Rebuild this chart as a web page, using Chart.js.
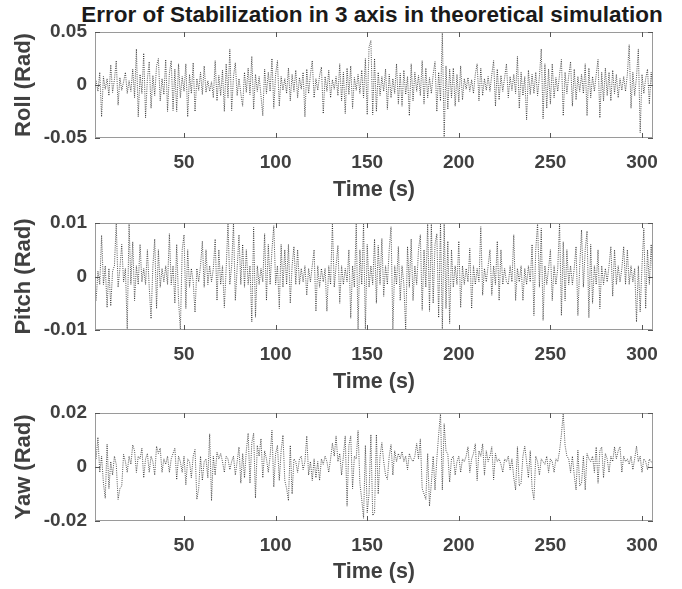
<!DOCTYPE html>
<html>
<head>
<meta charset="utf-8">
<script src="https://cdn.jsdelivr.net/npm/chart.js@4.4.0/dist/chart.umd.min.js"></script>
<style>
  body { margin: 0; width: 682px; height: 589px; background: #fff; position: relative; overflow: hidden; }
  #title { position: absolute; left: 0; width: 744px; top: 2px; text-align: center; line-height: 1;
           font: bold 22.5px "Liberation Sans", Arial, sans-serif; color: #1a1a1a; white-space: nowrap; }
  .plot { position: absolute; left: 0; width: 682px; }
  #c1 { top: 0; height: 205px; }
  #c2 { top: 190px; height: 205px; }
  #c3 { top: 380px; height: 209px; }
</style>
</head>
<body>
<div id="title">Error of Stabilization in 3 axis in theoretical simulation</div>
<div class="plot" id="c1"><canvas id="rollCanvas"></canvas></div>
<div class="plot" id="c2"><canvas id="pitchCanvas"></canvas></div>
<div class="plot" id="c3"><canvas id="yawCanvas"></canvas></div>
<script>
// sampled once per second, starting at t = 2 s
var startTime = 2;
var xTicks = [50, 100, 150, 200, 250, 300];

var rollErr = [
  0.004, -0.006, 0.012, -0.030, 0.008, -0.004, 0.006, -0.010, 0.019, -0.007,
  0.005, 0.023, -0.019, 0.007, -0.005, 0.003, 0.012, -0.008, 0.004, -0.006,
  0.015, -0.012, 0.034, -0.030, 0.010, -0.008, 0.030, -0.031, 0.006, 0.022,
  -0.022, 0.009, -0.010, 0.018, 0.025, -0.015, 0.006, -0.009, 0.024, -0.025,
  0.011, 0.023, -0.024, 0.015, -0.025, 0.020, -0.012, 0.008, -0.006, 0.020,
  -0.030, 0.010, -0.008, 0.021, -0.025, 0.006, -0.005, 0.012, -0.009, 0.018,
  -0.007, 0.004, -0.006, 0.003, -0.012, 0.023, -0.015, 0.009, -0.010, 0.014,
  -0.025, 0.020, -0.012, 0.034, -0.024, 0.008, 0.021, -0.010, 0.006, -0.008,
  -0.020, 0.012, -0.007, 0.016, -0.009, 0.027, -0.023, 0.010, -0.006, 0.008,
  -0.010, -0.029, 0.015, -0.008, 0.012, -0.006, 0.025, -0.022, 0.010, 0.023,
  -0.020, 0.008, -0.005, 0.006, -0.008, 0.016, -0.015, 0.010, -0.006, 0.014,
  -0.012, 0.007, -0.004, 0.012, -0.030, 0.015, -0.008, 0.010, 0.023, -0.012,
  0.006, -0.005, 0.009, 0.017, -0.027, 0.008, -0.006, 0.014, -0.012, 0.005,
  -0.004, 0.008, -0.010, 0.020, -0.015, 0.012, -0.027, 0.016, -0.009, 0.018,
  -0.022, 0.007, -0.005, 0.010, -0.008, 0.014, -0.012, 0.025, -0.028, 0.036,
  0.042, -0.028, 0.025, -0.025, 0.012, -0.010, 0.008, -0.006, 0.015, -0.023,
  0.010, -0.012, 0.006, -0.008, 0.020, -0.018, 0.011, -0.020, 0.014, -0.009,
  0.008, -0.029, 0.020, -0.015, 0.012, -0.006, 0.009, -0.010, 0.023, -0.018,
  0.016, -0.012, 0.007, -0.008, 0.010, 0.022, -0.025, 0.012, -0.015, 0.050,
  -0.050, 0.018, -0.023, 0.015, -0.012, 0.016, -0.020, 0.010, -0.016, 0.018,
  -0.014, 0.006, -0.004, 0.007, -0.006, 0.005, -0.008, 0.010, 0.020, -0.015,
  0.016, -0.010, 0.006, -0.005, 0.008, -0.006, 0.010, 0.023, -0.020, 0.015,
  -0.014, 0.009, -0.006, 0.007, 0.020, -0.012, 0.008, -0.005, 0.010, -0.008,
  0.027, -0.022, 0.012, -0.010, 0.008, -0.033, 0.014, -0.009, 0.010, -0.008,
  0.012, -0.010, 0.008, 0.034, -0.032, 0.020, -0.022, 0.015, -0.018, 0.020,
  -0.012, 0.007, -0.006, 0.010, 0.024, -0.029, 0.012, -0.008, 0.009, 0.022,
  -0.020, 0.015, -0.014, 0.008, -0.006, 0.010, -0.008, 0.020, -0.029, 0.016,
  -0.012, 0.008, -0.006, 0.010, 0.024, -0.031, 0.012, -0.015, 0.016, -0.010,
  0.012, -0.015, 0.014, -0.008, 0.010, -0.012, 0.006, -0.005, 0.008, -0.006,
  0.010, 0.038, -0.022, 0.012, -0.010, 0.008, 0.034, -0.045, 0.010, -0.008,
  0.006, 0.015, -0.018, 0.012, -0.008
];

var pitchErr = [
  -0.0045, 0.001, -0.0015, 0.0077, -0.0015, 0.002, -0.0058, 0.0015, -0.0055, 0.001,
  0.002, 0.010, -0.002, 0.0015, 0.006, -0.001, 0.0015, -0.010, 0.010, -0.0015,
  0.0065, -0.0045, 0.002, -0.0015, 0.006, -0.001, 0.0015, -0.0015, 0.005, -0.002,
  -0.0079, 0.002, 0.007, -0.006, 0.005, -0.002, 0.0015, -0.001, 0.002, -0.0015,
  0.008, -0.0015, 0.002, -0.005, 0.006, -0.0045, -0.010, 0.005, 0.0078, -0.006,
  0.005, -0.002, 0.0015, -0.001, -0.0067, 0.0015, -0.001, 0.002, 0.0066, -0.002,
  0.005, -0.0015, 0.002, -0.001, 0.0015, 0.007, -0.0045, 0.005, -0.0015, 0.002,
  -0.0058, 0.0015, 0.010, -0.0015, 0.002, 0.010, -0.0045, 0.0015, 0.0078, -0.0015,
  0.006, -0.002, 0.005, -0.0015, 0.002, -0.0085, 0.0092, -0.0076, 0.002, -0.0015,
  0.0015, -0.001, 0.008, -0.0045, 0.006, -0.0015, 0.005, 0.0095, -0.0015, 0.002,
  -0.006, 0.006, -0.002, 0.005, -0.0015, 0.006, -0.005, 0.002, 0.0056, -0.0015,
  0.005, -0.0015, 0.0015, -0.001, 0.002, -0.0035, 0.0015, -0.001, 0.002, 0.005,
  -0.0065, 0.002, -0.002, 0.0015, -0.001, 0.0015, -0.0065, 0.002, -0.0015, 0.010,
  -0.002, 0.002, 0.0058, -0.005, 0.002, -0.0015, 0.0015, -0.001, 0.005, -0.0078,
  0.002, -0.002, 0.010, -0.010, 0.005, -0.0015, 0.010, -0.010, 0.006, -0.002,
  0.002, -0.0015, 0.007, -0.005, 0.0058, -0.0015, 0.0071, -0.0037, 0.002, -0.0015,
  0.005, 0.0093, -0.010, 0.002, -0.0015, 0.0056, -0.0045, 0.002, -0.0015, -0.010,
  0.0056, -0.002, 0.007, -0.0045, 0.002, -0.0015, 0.005, 0.0078, -0.0063, 0.005,
  -0.002, 0.010, -0.0065, 0.010, -0.005, 0.006, 0.008, -0.0077, 0.010, -0.010,
  0.010, -0.006, 0.0066, -0.0088, 0.005, -0.002, 0.002, -0.0015, 0.0066, -0.0058,
  0.002, -0.0015, 0.0015, -0.001, 0.0053, -0.006, 0.002, -0.0015, 0.0015, -0.001,
  0.0093, -0.0035, 0.0015, -0.001, 0.002, 0.005, -0.0035, 0.002, -0.0015, 0.0066,
  -0.0045, 0.005, -0.0015, 0.0015, -0.001, -0.0015, 0.002, -0.001, 0.0078, -0.0045,
  0.0015, -0.001, 0.002, -0.0045, 0.0015, -0.0015, 0.002, -0.001, 0.006, -0.0073,
  0.005, 0.010, -0.002, 0.009, -0.0082, 0.002, -0.0015, 0.0015, 0.005, -0.0045,
  0.002, -0.0015, 0.0015, 0.010, -0.0073, 0.0065, -0.0045, 0.005, -0.0015, 0.002,
  -0.0015, 0.0015, 0.0056, -0.0073, 0.002, 0.0087, -0.002, 0.005, 0.0085, -0.0077,
  0.006, -0.005, 0.002, -0.0015, 0.005, -0.006, 0.002, -0.0015, 0.0015, -0.001,
  0.002, 0.0056, -0.0037, 0.005, -0.0015, 0.002, -0.001, 0.0015, 0.0056, -0.0015,
  0.005, -0.0015, 0.002, -0.001, 0.0015, -0.0085, 0.002, -0.0066, 0.002, 0.009,
  -0.006, 0.005, -0.0015, 0.006, -0.001
];

var yawErr = [
  0.003, 0.011, -0.002, 0.004, -0.006, -0.0116, 0.0085, -0.008, 0.002, -0.003,
  0.004, 0.001, -0.012, -0.008, -0.007, 0.0047, 0.002, -0.002, 0.004, 0.001,
  0.0082, 0.006, -0.002, 0.004, 0.003, 0.007, -0.004, 0.003, 0.005, -0.002,
  0.004, 0.002, -0.003, 0.0077, 0.005, 0.007, -0.002, 0.003, 0.001, 0.004,
  -0.002, 0.003, 0.005, 0.007, -0.0047, 0.004, 0.002, -0.002, 0.004, -0.0066,
  0.003, 0.002, -0.004, 0.004, 0.0065, -0.012, -0.008, 0.004, -0.005, 0.002,
  0.003, -0.004, 0.0123, -0.0125, 0.004, -0.003, 0.0055, 0.003, 0.005, 0.002,
  -0.002, 0.004, 0.003, -0.001, 0.002, 0.004, -0.003, 0.002, 0.0074, -0.006,
  0.005, -0.004, 0.006, 0.0125, -0.006, 0.009, 0.0125, -0.0115, 0.008, 0.004,
  0.0105, -0.004, 0.006, 0.003, -0.002, 0.004, 0.0136, -0.0074, 0.005, 0.008,
  -0.005, 0.006, 0.0118, -0.005, -0.008, -0.0125, 0.008, -0.010, 0.003, 0.002,
  -0.002, 0.003, 0.004, -0.001, 0.002, 0.0115, -0.003, 0.002, -0.005, 0.003,
  -0.004, 0.002, -0.005, 0.003, 0.001, 0.004, 0.002, -0.002, 0.003, 0.0088,
  0.004, 0.0115, 0.002, 0.005, -0.003, 0.004, 0.0115, -0.0145, 0.008, 0.0115,
  -0.008, 0.004, 0.003, 0.0135, -0.006, -0.012, -0.019, 0.008, -0.017, -0.010,
  0.012, -0.018, -0.017, 0.012, -0.010, 0.004, 0.009, 0.002, -0.003, -0.0046,
  0.004, 0.0083, -0.003, 0.006, 0.002, 0.005, 0.003, 0.0057, 0.002, 0.004,
  -0.001, 0.005, 0.003, 0.002, 0.004, 0.0087, 0.003, 0.0104, -0.008, -0.010,
  -0.012, 0.005, -0.0145, -0.006, 0.004, -0.0085, 0.003, 0.012, 0.020, -0.0085,
  0.016, 0.006, 0.0047, -0.0056, 0.003, 0.004, -0.003, 0.002, 0.004, -0.002,
  0.003, 0.002, 0.004, 0.0075, -0.002, 0.003, 0.005, 0.0086, -0.005, 0.006,
  0.004, 0.0086, -0.003, 0.006, 0.002, 0.004, 0.0075, -0.0047, 0.005, 0.002,
  0.003, 0.001, -0.002, 0.003, 0.002, 0.004, -0.001, 0.003, -0.004, -0.0085,
  0.0075, -0.007, -0.006, 0.004, 0.0077, 0.002, -0.004, 0.006, -0.008, -0.012,
  0.004, 0.002, -0.003, 0.003, 0.002, 0.001, 0.004, -0.002, 0.003, 0.002,
  -0.002, 0.003, 0.002, 0.006, 0.012, 0.020, 0.008, 0.004, 0.003, -0.002,
  0.004, -0.003, -0.0085, 0.0062, -0.007, -0.006, 0.004, -0.0085, 0.005, 0.003,
  0.002, 0.004, -0.002, 0.0074, -0.006, 0.006, 0.0074, -0.004, 0.005, 0.003,
  -0.002, 0.004, 0.002, 0.0075, 0.003, 0.006, 0.0075, -0.002, 0.004, 0.002,
  0.003, 0.001, 0.004, -0.001, 0.003, 0.0077, 0.002, 0.004, -0.002, 0.003,
  0.002, -0.001, 0.003, 0.002, 0.001
];

var fontFamily = '"Liberation Sans", Arial, sans-serif';
var textColor = '#404040';

// MATLAB-like box with inward ticks
var boxPlugin = {
    id: 'box',
    afterDatasetsDraw: function(chart) {
        var ctx = chart.ctx;
        var a = chart.chartArea;
        var xs = chart.scales.x, ys = chart.scales.y;
        ctx.save();
        ctx.strokeStyle = '#9a9a9a';
        ctx.lineWidth = 1;
        ctx.strokeRect(Math.round(a.left) + 0.5, Math.round(a.top) + 0.5,
                       Math.round(a.width) - 1, Math.round(a.height) - 1);
        ctx.strokeStyle = '#555';
        ctx.beginPath();
        xs.ticks.forEach(function(t) {
            var px = Math.round(xs.getPixelForValue(t.value)) + 0.5;
            ctx.moveTo(px, a.bottom); ctx.lineTo(px, a.bottom - 5);
            ctx.moveTo(px, a.top); ctx.lineTo(px, a.top + 5);
        });
        ys.ticks.forEach(function(t) {
            var py = Math.round(ys.getPixelForValue(t.value)) + 0.5;
            ctx.moveTo(a.left, py); ctx.lineTo(a.left + 5, py);
            ctx.moveTo(a.right, py); ctx.lineTo(a.right - 5, py);
        });
        ctx.stroke();
        ctx.restore();
    }
};

function makeChart(canvasId, values, limit, yLabel, padTop, xHeight, titlePad) {
    var points = values.map(function(v, i) {
        return { x: startTime + i, y: v };
    });
    var ctx = document.getElementById(canvasId).getContext('2d');
    return new Chart(ctx, {
        type: 'line',
        data: {
            datasets: [{
                data: points,
                borderColor: 'rgba(0,0,0,0.85)',
                borderWidth: 0.8,
                borderDash: [1, 1.2],
                pointRadius: 0,
                tension: 0,
                fill: false
            }]
        },
        options: {
            responsive: true,
            maintainAspectRatio: false,
            animation: false,
            layout: { padding: { top: padTop, right: 29, left: 0, bottom: 0 } },
            plugins: { legend: { display: false }, tooltip: { enabled: false } },
            scales: {
                x: {
                    type: 'linear',
                    min: 1.4,
                    max: 306,
                    afterBuildTicks: function(scale) {
                        scale.ticks = xTicks.map(function(v) { return { value: v }; });
                    },
                    afterFit: function(scale) { scale.height = xHeight; },
                    grid: { display: false, drawTicks: false },
                    border: { display: false },
                    ticks: { padding: 13, color: textColor, font: { family: fontFamily, size: 19, weight: 'bold' } },
                    title: {
                        display: true, text: 'Time (s)', color: textColor,
                        padding: { top: 0, bottom: titlePad },
                        font: { family: fontFamily, size: 21.5, weight: 'bold' }
                    }
                },
                y: {
                    min: -limit,
                    max: limit,
                    afterBuildTicks: function(scale) {
                        scale.ticks = [-limit, 0, limit].map(function(v) { return { value: v }; });
                    },
                    afterFit: function(scale) { scale.width = 95; },
                    grid: { display: false, drawTicks: false },
                    border: { display: false },
                    ticks: { padding: 8, color: textColor, font: { family: fontFamily, size: 19, weight: 'bold' } },
                    title: {
                        display: true, text: yLabel, color: textColor,
                        padding: { top: 11, bottom: 0 },
                        font: { family: fontFamily, size: 22, weight: 'bold' }
                    }
                }
            }
        },
        plugins: [boxPlugin]
    });
}

makeChart('rollCanvas', rollErr, 0.05, 'Roll (Rad)', 32, 67, 2);
makeChart('pitchCanvas', pitchErr, 0.01, 'Pitch (Rad)', 33, 65, 0);
makeChart('yawCanvas', yawErr, 0.02, 'Yaw (Rad)', 33, 68, 4);
</script>
</body>
</html>
